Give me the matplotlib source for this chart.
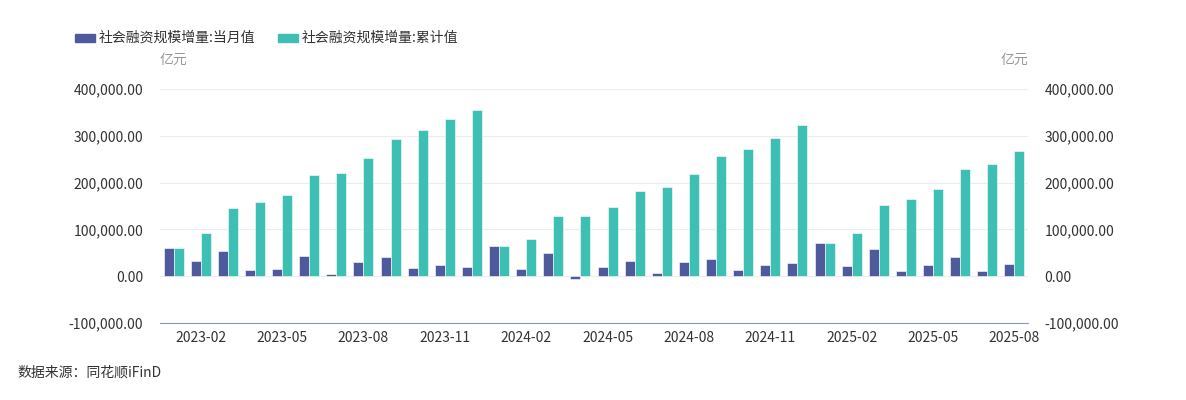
import matplotlib
matplotlib.use("Agg")
import matplotlib.pyplot as plt
import numpy as np
from matplotlib.patches import Rectangle

plt.rcParams["font.family"] = ["Noto Sans CJK SC", "DejaVu Sans"]

months = [f"{y}-{m:02d}" for y in (2023, 2024, 2025) for m in range(1, 13)][:32]

monthly = [
    59800, 31600, 53800, 12200, 15600, 42200, 5300, 31200, 41300, 18500, 24500, 19300,
    65100, 14900, 49000, -6400, 20600, 33400, 7800, 30600, 37700, 14200, 23500, 28400,
    70400, 22300, 58900, 11600, 22900, 41900, 11300, 25700,
]
cumulative = [
    59800, 91500, 145300, 157600, 173200, 215500, 220800, 252000, 293300, 311800, 336200, 355400,
    65100, 79800, 128600, 127900, 148500, 181200, 189800, 218900, 257300, 271500, 295000, 323400,
    70400, 93100, 151400, 164200, 186900, 228900, 240200, 266500,
]
series_names = ["社会融资规模增量:当月值", "社会融资规模增量:累计值"]
tick_labels = ["2023-02", "2023-05", "2023-08", "2023-11", "2024-02", "2024-05",
               "2024-08", "2024-11", "2025-02", "2025-05", "2025-08"]
yticks = [-100000, 0, 100000, 200000, 300000, 400000]

dark = "#4e5a9b"
teal = "#3dbfb4"
text_c = "#333333"

fig = plt.figure(figsize=(11.86, 4.0), dpi=100)
ax = fig.add_axes([160 / 1186, 77 / 400, 868 / 1186, 234 / 400])

x = np.arange(len(months))
w = 0.37
ax.bar(x - w / 2, monthly, width=w, color=dark, edgecolor="white", linewidth=0.4, zorder=3)
ax.bar(x + w / 2, cumulative, width=w, color=teal, edgecolor="white", linewidth=0.4, zorder=3)

ax.set_xlim(-0.5, len(months) - 0.5)
ax.set_ylim(-100000, 400000)
ax.set_yticks(yticks)
ax.set_yticklabels([f"{v:,.2f}" for v in yticks], color=text_c, fontsize=10)
ax.grid(axis="y", color="#ececf4", linewidth=0.8, zorder=0)
ax.set_xticks([months.index(t) for t in tick_labels])
ax.set_xticklabels(tick_labels, color=text_c, fontsize=10)
ax.tick_params(axis="both", length=0, pad=6)
ax.tick_params(axis="y", pad=12)
for side in ("top", "left", "right"):
    ax.spines[side].set_visible(False)
ax.spines["bottom"].set_color("#8c96c2")

ax2 = ax.twinx()
ax2.set_ylim(-100000, 400000)
ax2.set_yticks(yticks)
ax2.set_yticklabels([f"{v:,.2f}" for v in yticks], color=text_c, fontsize=10)
ax2.tick_params(axis="y", length=0, pad=12)
for side in ("top", "left", "right", "bottom"):
    ax2.spines[side].set_visible(False)

fig.text(160 / 1186, 1 - 60 / 400, "亿元", color="#999999", fontsize=10, va="center", ha="left")
fig.text(1028 / 1186, 1 - 60 / 400, "亿元", color="#999999", fontsize=10, va="center", ha="right")

# legend
for px, color, name in ((75, dark, series_names[0]), (278, teal, series_names[1])):
    fig.patches.append(Rectangle((px / 1186, 1 - 42 / 400), 20 / 1186, 8 / 400,
                                 transform=fig.transFigure, color=color))
    fig.text((px + 24) / 1186, 1 - 38 / 400, name, color=text_c, fontsize=10, va="center", ha="left")

fig.text(17 / 1186, 1 - 373 / 400, "数据来源：同花顺iFinD", color=text_c, fontsize=10, va="center", ha="left")

fig.savefig("out.png", dpi=100)
